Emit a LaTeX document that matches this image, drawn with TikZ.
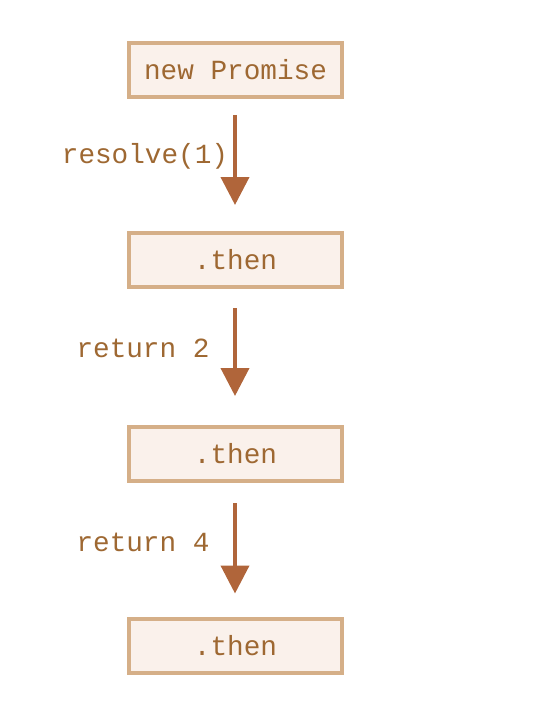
\documentclass[tikz,border=0pt]{standalone}
\usepackage{fontspec}
\setmonofont{Liberation Mono}
\usetikzlibrary{arrows.meta}
\definecolor{txt}{RGB}{158,104,50}
\definecolor{arr}{RGB}{176,101,58}
\definecolor{bord}{RGB}{213,175,136}
\definecolor{fillc}{RGB}{250,241,235}
\tikzset{
  stepbox/.style={draw=bord, fill=fillc, line width=4pt, minimum width=213pt, minimum height=54pt, inner sep=0pt, text=txt, font=\fontsize{27.7pt}{30pt}\ttfamily},
  lbl/.style={text=txt, font=\fontsize{27.7pt}{30pt}\ttfamily, inner sep=0pt, anchor=base},
  flow/.style={draw=arr, line width=4pt, -{Triangle[width=28pt,length=28pt]}}
}
\begin{document}
\begin{tikzpicture}[x=1pt,y=-1pt]
\useasboundingbox (0,0) rectangle (554,706);
\node[stepbox] (p) at (235.5,70) {new Promise};
\node[stepbox] (t1) at (235.5,260) {.then};
\node[stepbox] (t2) at (235.5,454) {.then};
\node[stepbox] (t3) at (235.5,645.5) {.then};
\draw[flow, shorten <=16pt, shorten >=26pt] ([xshift=-0.5pt]p.south) -- ([xshift=-0.5pt]t1.north);
\draw[flow, shorten <=19pt, shorten >=29pt] ([xshift=-0.5pt]t1.south) -- ([xshift=-0.5pt]t2.north);
\draw[flow, shorten <=20pt, shorten >=23pt] ([xshift=-0.5pt]t2.south) -- ([xshift=-0.5pt]t3.north);
\node[lbl] (l1) at (145,163) {resolve(1)};
\node[lbl] (l2) at (143,357) {return 2};
\node[lbl] (l3) at (143,551) {return 4};
\end{tikzpicture}
\end{document}
